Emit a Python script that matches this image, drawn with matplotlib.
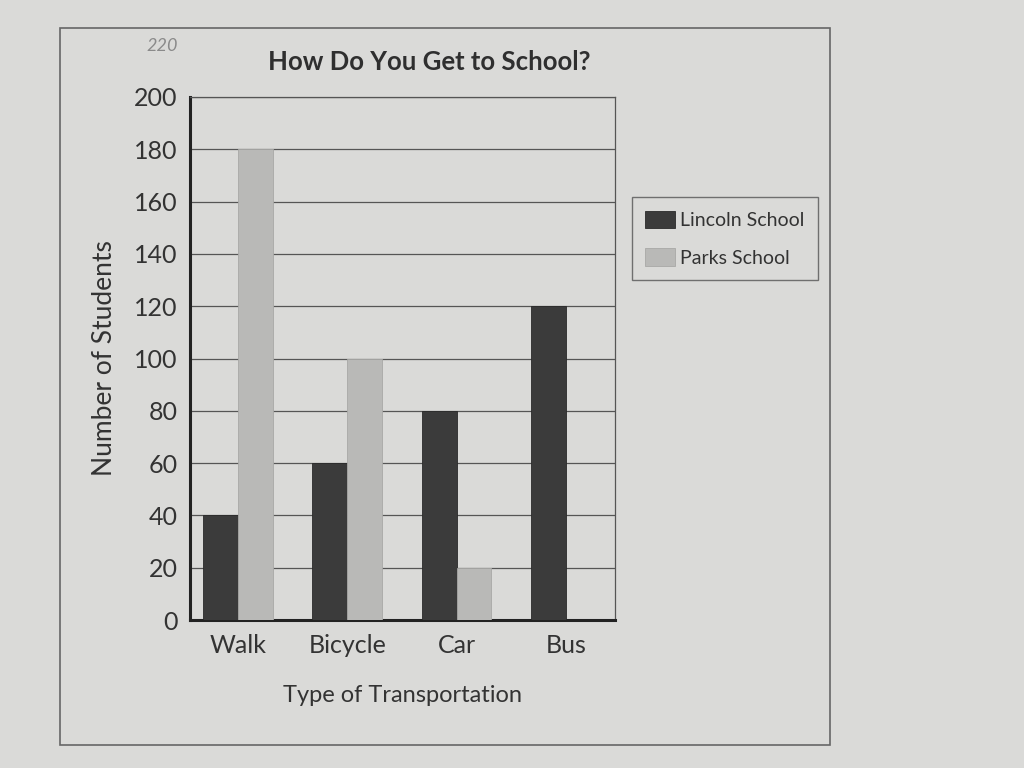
# bar chart from the worksheet: how do you get to school?
# saves to out.png

import matplotlib.pyplot as plt
import matplotlib.patches as patches
import numpy as np

categories = ['Walk', 'Bicycle', 'Car', 'Bus']
lincoln = [40, 60, 80, 120]
parks = [180, 100, 20, 0]
y_ticks = [0, 20, 40, 60, 80, 100, 120, 140, 160, 180, 200]

paper = '#dadad8'
dark = '#3b3b3b'
light = '#b9b9b7'

plt.rcParams['font.family'] = ['Lato', 'DejaVu Sans']

fig = plt.figure(figsize=(10.24, 7.68), dpi=100, facecolor=paper)
ax = fig.add_axes([0.1855, 0.1927, 0.415, 0.681])
ax.set_facecolor(paper)

x = np.arange(len(categories))
w = 0.32
ax.bar(x - w / 2, lincoln, w, color=dark, edgecolor='#2a2a2a', linewidth=0.6,
       label='Lincoln School', zorder=3)
ax.bar(x + w / 2, parks, w, color=light, edgecolor='#a8a8a6', linewidth=0.6,
       label='Parks School', zorder=3)

ax.set_xlim(-0.44, 3.45)
ax.set_ylim(0, 200)
ax.set_yticks(y_ticks)
ax.set_xticks(x)
ax.set_xticklabels(categories, fontsize=18, color='#333333')
ax.tick_params(axis='y', length=0, pad=9, labelsize=18, labelcolor='#333333')
ax.tick_params(axis='x', length=0, pad=10)
ax.yaxis.grid(True, color='#555555', linewidth=0.9, zorder=0)

for side in ['left', 'bottom']:
    ax.spines[side].set_linewidth(2.2)
    ax.spines[side].set_color('#222222')
ax.spines['right'].set_linewidth(0.9)
ax.spines['right'].set_color('#555555')
ax.spines['top'].set_linewidth(0.9)
ax.spines['top'].set_color('#555555')

ax.set_ylabel('Number of Students', fontsize=19, color='#333333', labelpad=12)
ax.set_xlabel('Type of Transportation', fontsize=17, color='#333333', labelpad=20)

fig.text(0.419, 0.919, 'How Do You Get to School?', ha='center', va='center',
         fontsize=18.5, fontweight='bold', color='#2f2f2f')

# student's pencil note above the axis
fig.text(0.158, 0.940, '220', ha='center', va='center', fontsize=13,
         color='#8a8a8a', fontstyle='italic')

leg = fig.legend(loc='upper left', bbox_to_anchor=(0.617, 0.7435), fontsize=14,
                 frameon=True, fancybox=False, edgecolor='#555555',
                 facecolor=paper, handlelength=1.5, handleheight=1.0,
                 handletextpad=0.3, borderpad=0.7, labelspacing=1.0,
                 borderaxespad=0)
for t in leg.get_texts():
    t.set_color('#333333')

# outer frame of the worksheet
fig.patches.append(patches.Rectangle((60 / 1024, 1 - 745 / 768), 770 / 1024, 717 / 768,
                                     transform=fig.transFigure, fill=False,
                                     edgecolor='#666666', linewidth=1.2))

fig.savefig('out.png', dpi=100, facecolor=paper)
